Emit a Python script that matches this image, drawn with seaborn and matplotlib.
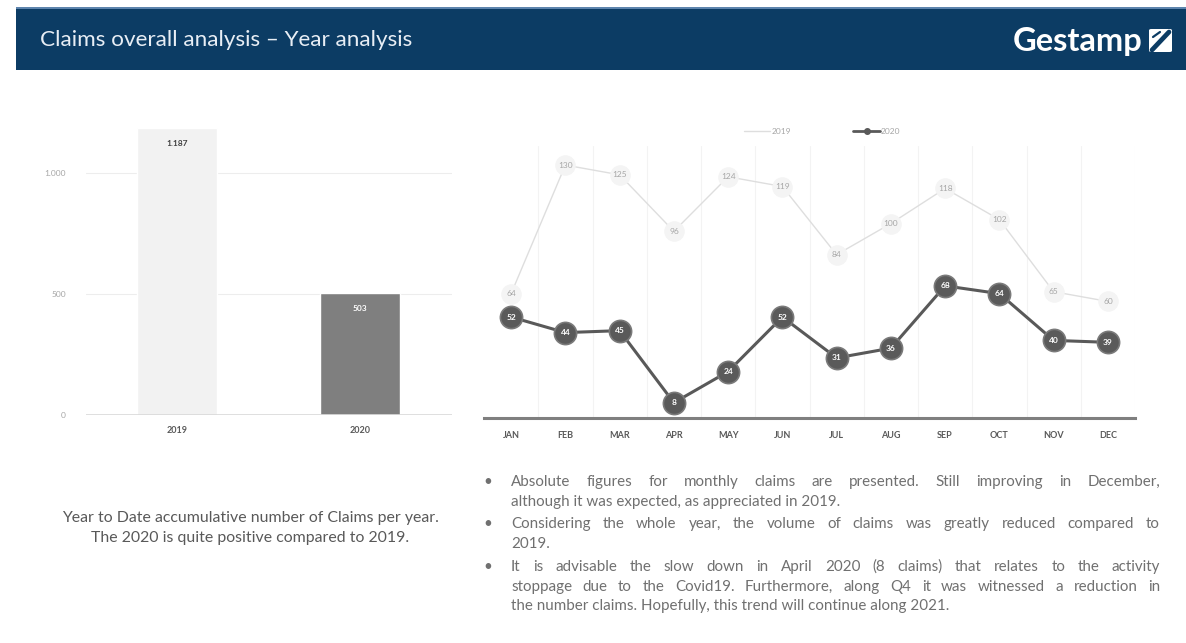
import matplotlib
matplotlib.use("Agg")
import matplotlib.pyplot as plt
from matplotlib.patches import Rectangle, FancyBboxPatch
from matplotlib.lines import Line2D
import seaborn as sns

# ---- data -------------------------------------------------------------
years = ["2019", "2020"]
year_totals = [1187, 503]

months = ["JAN", "FEB", "MAR", "APR", "MAY", "JUN",
          "JUL", "AUG", "SEP", "OCT", "NOV", "DEC"]
claims_2019 = [64, 130, 125, 96, 124, 119, 84, 100, 118, 102, 65, 60]
claims_2020 = [52, 44, 45, 8, 24, 52, 31, 36, 68, 64, 40, 39]

bar_ticks = [0, 500, 1000]

# ---- figure setup -----------------------------------------------------
W, H = 1186, 643
sns.set_theme(style="white")
plt.rcParams["font.family"] = ["Lato", "DejaVu Sans"]

fig = plt.figure(figsize=(W / 100, H / 100), dpi=100)
fig.patch.set_facecolor("white")


def fx(x):
    return x / W


def fy(y):
    return 1 - y / H


def axes_px(left, top, right, bottom):
    return fig.add_axes([fx(left), fy(bottom), (right - left) / W, (bottom - top) / H])


def thousands(v):
    return f"{v:,.0f}".replace(",", ".")


# ---- header band ------------------------------------------------------
fig.patches.append(Rectangle((fx(16), fy(70)), 1 - fx(16), (70 - 8) / H,
                             transform=fig.transFigure, facecolor="#0c3c64",
                             edgecolor="none", zorder=0))
fig.patches.append(Rectangle((fx(16), fy(9)), 1 - fx(16), 2 / H,
                             transform=fig.transFigure, facecolor="#5d84ad",
                             edgecolor="none", zorder=1))
fig.text(fx(40), fy(40), "Claims overall analysis \u2013 Year analysis",
         color="#e8eef5", fontsize=16.2, va="center", ha="left")
fig.text(fx(1142), fy(41), "Gestamp", color="white", fontsize=23.5,
         fontweight="bold", va="center", ha="right")
fig.patches.append(FancyBboxPatch((fx(1149), fy(52)), 23 / W, 23 / H,
                                  boxstyle="round,pad=0,rounding_size=0.002",
                                  transform=fig.transFigure, facecolor="white",
                                  edgecolor="none", zorder=2))
fig.lines.append(Line2D([fx(1152), fx(1169)], [fy(50), fy(32)],
                        transform=fig.transFigure, color="#0c3c64", lw=3.4,
                        solid_capstyle="round", zorder=3))
fig.lines.append(Line2D([fx(1153), fx(1160)], [fy(37), fy(32)],
                        transform=fig.transFigure, color="#0c3c64", lw=1.6,
                        zorder=3))

# ---- yearly totals bar chart ------------------------------------------
ax1 = axes_px(85.5, 124.6, 451.5, 415)
sns.barplot(x=years, y=year_totals, hue=years, palette=["#f2f2f2", "#7f7f7f"],
            width=0.44, legend=False, ax=ax1, zorder=2)
ax1.set_xlim(-0.5, 1.5)
ax1.set_ylim(0, 1200)
ax1.set_yticks(bar_ticks)
ax1.set_yticklabels([thousands(t) for t in bar_ticks], color="#a6a6a6", fontsize=6)
ax1.tick_params(axis="y", length=0, pad=14)
ax1.tick_params(axis="x", length=0, pad=8)
for lbl in ax1.get_xticklabels():
    lbl.set_fontsize(6.5)
    lbl.set_fontweight("bold")
    lbl.set_color("#595959")
for t in bar_ticks[1:]:
    ax1.axhline(t, color="#ededed", lw=0.8, zorder=1)
ax1.axhline(0, color="#d9d9d9", lw=1.2, zorder=3)
for s in ax1.spines.values():
    s.set_visible(False)
ax1.set_xlabel("")
ax1.set_ylabel("")
label_colors = ["#404040", "white"]
for i, v in enumerate(year_totals):
    ax1.annotate(thousands(v), (i, v), xytext=(0, -11), textcoords="offset points",
                 ha="center", va="center", fontsize=6, fontweight="bold",
                 color=label_colors[i], zorder=4)

fig.text(fx(250), fy(518), "Year to Date accumulative number of Claims per year.",
         ha="center", va="center", fontsize=11.4, color="#595959")
fig.text(fx(250), fy(538), "The 2020 is quite positive compared to 2019.",
         ha="center", va="center", fontsize=11.4, color="#595959")

# ---- monthly claims line chart ----------------------------------------
ax2 = axes_px(484, 145.6, 1135, 418.3)
sns.lineplot(x=months, y=claims_2019, sort=False, color="#dedede", lw=1,
             marker="o", markersize=14, markerfacecolor="#f4f4f4",
             markeredgecolor="#f4f4f4", ax=ax2, zorder=3)
sns.lineplot(x=months, y=claims_2020, sort=False, color="#595959", lw=2.2,
             marker="o", markersize=16, markerfacecolor="#5a5a5a",
             markeredgecolor="#7a7a7a", markeredgewidth=1.2, ax=ax2, zorder=4)
ax2.set_xlim(-0.5, 11.5)
ax2.set_ylim(0, 140)
ax2.set_yticks([])
for b in range(12):
    ax2.axvline(b + 0.5, color="#f3f3f3", lw=0.8, zorder=1)
for s in ["top", "right", "left"]:
    ax2.spines[s].set_visible(False)
ax2.spines["bottom"].set_color("#7f7f7f")
ax2.spines["bottom"].set_linewidth(2.2)
ax2.tick_params(axis="x", length=0, pad=9)
for lbl in ax2.get_xticklabels():
    lbl.set_fontsize(6.5)
    lbl.set_fontweight("bold")
    lbl.set_color("#595959")
ax2.set_xlabel("")
ax2.set_ylabel("")
for i, v in enumerate(claims_2019):
    ax2.text(i, v, str(v), ha="center", va="center", fontsize=6,
             color="#a6a6a6", zorder=5)
for i, v in enumerate(claims_2020):
    ax2.text(i, v, str(v), ha="center", va="center", fontsize=6,
             color="white", fontweight="bold", zorder=6)

handles = [Line2D([], [], color="#dedede", lw=1),
           Line2D([], [], color="#595959", lw=2, marker="o", markersize=4)]
fig.legend(handles, years, loc="center", bbox_to_anchor=(fx(822), fy(131)),
           ncol=2, frameon=False, fontsize=6, labelcolor="#a6a6a6",
           handlelength=3.2, handletextpad=0.1, columnspacing=7.5)

# ---- commentary (justified bullet list) -------------------------------
bullets = [
    ["Absolute figures for monthly claims are presented. Still improving in December,",
     "although it was expected, as appreciated in 2019."],
    ["Considering the whole year, the volume of claims was greatly reduced compared to",
     "2019."],
    ["It is advisable the slow down in April 2020 (8 claims) that relates to the activity",
     "stoppage due to the Covid19. Furthermore, along Q4 it was witnessed a reduction in",
     "the number claims. Hopefully, this trend will continue along 2021."],
]
line_y = [[482, 502], [524, 544], [567, 587, 606]]
text_left, text_right = 511, 1160
text_color = "#707070"
text_size = 10.9
renderer = fig.canvas.get_renderer()

for para, ys in zip(bullets, line_y):
    fig.text(fx(483), fy(ys[0]), "\u2022", ha="left", va="center",
             fontsize=text_size, color=text_color)
    for k, (line, y) in enumerate(zip(para, ys)):
        last = k == len(para) - 1
        if last:
            fig.text(fx(text_left), fy(y), line, ha="left", va="center",
                     fontsize=text_size, color=text_color)
            continue
        words = line.split(" ")
        items = [fig.text(0, fy(y), w, ha="left", va="center", fontsize=text_size,
                          color=text_color) for w in words]
        widths = [t.get_window_extent(renderer).width for t in items]
        gap = (text_right - text_left - sum(widths)) / (len(words) - 1)
        x = text_left
        for t, w in zip(items, widths):
            t.set_x(fx(x))
            x += w + gap

fig.savefig("out.png", dpi=100, facecolor="white")
